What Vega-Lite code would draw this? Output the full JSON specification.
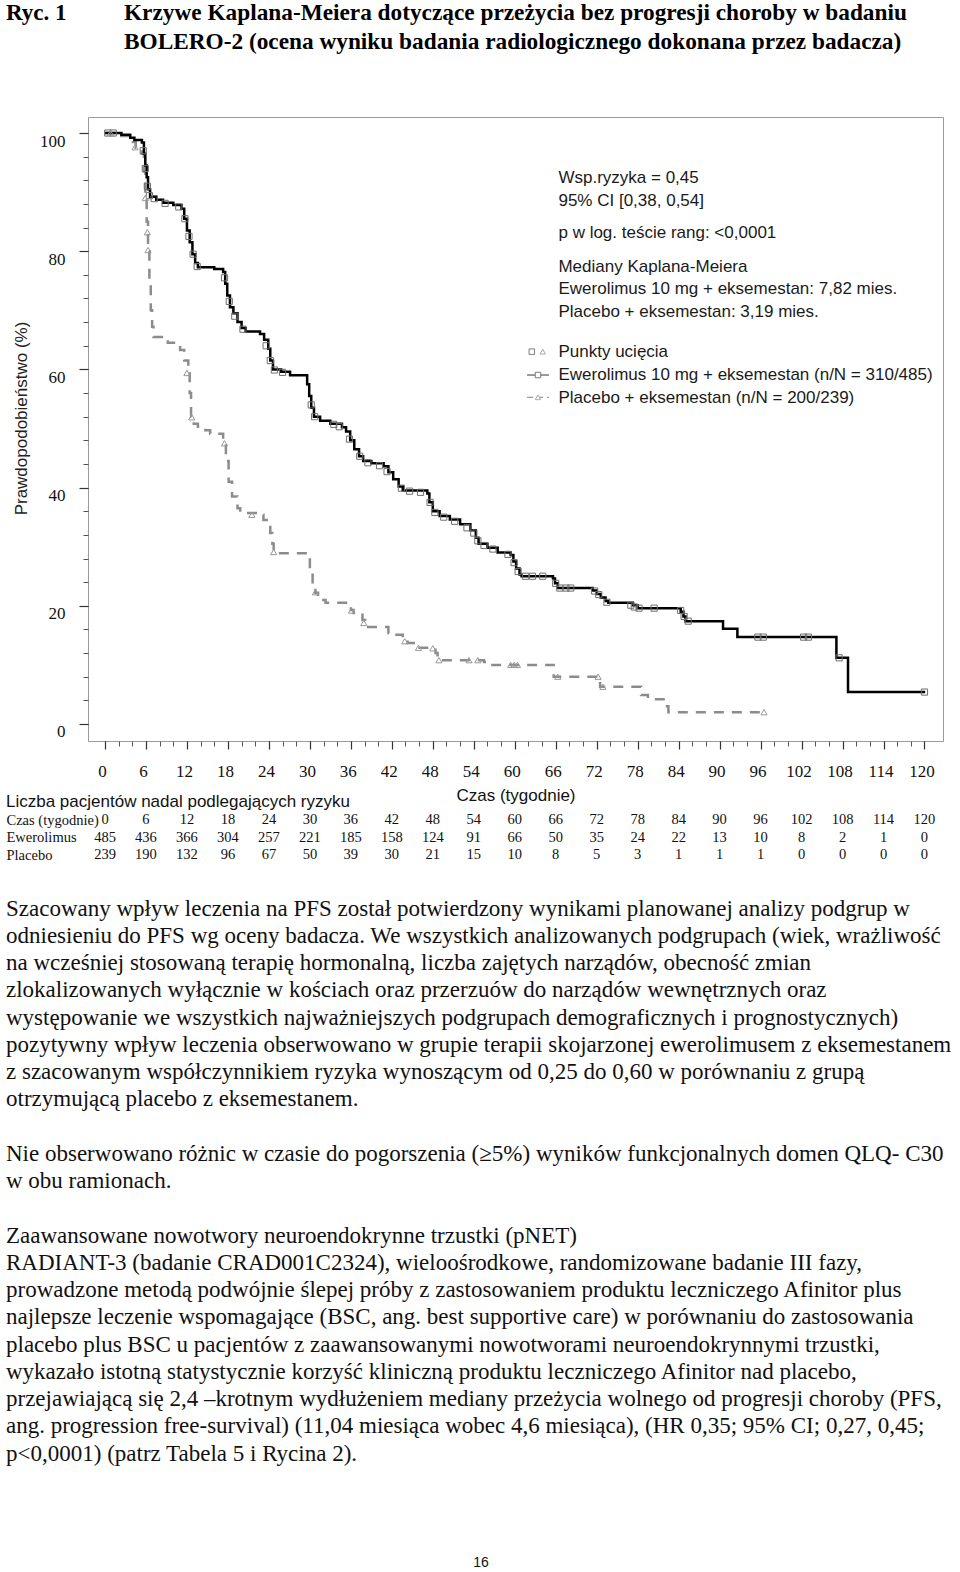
{
  "$schema": "https://vega.github.io/schema/vega-lite/v6.json",
  "background": "white",
  "padding": {"left": 6, "top": 0, "right": 0, "bottom": 0},
  "spacing": 0,
  "bounds": "flush",
  "config": {"view": {"stroke": null}, "font": "Liberation Serif"},
  "datasets": {
    "ewer": [
      {"week":0,"pct":100},{"week":2.4,"pct":99.7},{"week":3.7,"pct":99.2},{"week":4.3,"pct":98.8},{"week":5.4,"pct":98.4},{"week":5.7,"pct":96.5},{"week":5.9,"pct":94.5},{"week":6.1,"pct":92.5},{"week":6.3,"pct":90.5},{"week":6.6,"pct":89.2},{"week":7.5,"pct":88.7},{"week":8.5,"pct":88.2},{"week":10.0,"pct":87.8},{"week":11.2,"pct":87.2},{"week":11.6,"pct":85.5},{"week":12.0,"pct":83.5},{"week":12.4,"pct":81.5},{"week":12.8,"pct":79.5},{"week":13.2,"pct":78.0},{"week":13.6,"pct":77.3},{"week":16.0,"pct":77.0},{"week":17.3,"pct":76.5},{"week":17.6,"pct":74.5},{"week":17.9,"pct":72.5},{"week":18.3,"pct":70.5},{"week":18.8,"pct":69.5},{"week":19.4,"pct":68.0},{"week":20.0,"pct":67.0},{"week":20.6,"pct":66.4},{"week":22.7,"pct":66.0},{"week":23.3,"pct":65.0},{"week":23.9,"pct":63.5},{"week":24.2,"pct":61.5},{"week":24.6,"pct":60.0},{"week":25.8,"pct":59.6},{"week":27.1,"pct":59.0},{"week":29.6,"pct":57.5},{"week":29.9,"pct":55.5},{"week":30.2,"pct":53.5},{"week":30.6,"pct":52.0},{"week":31.5,"pct":51.3},{"week":33.0,"pct":50.8},{"week":34.7,"pct":50.2},{"week":35.3,"pct":49.5},{"week":35.9,"pct":48.0},{"week":36.5,"pct":46.5},{"week":37.2,"pct":45.3},{"week":37.8,"pct":44.5},{"week":39.0,"pct":44.1},{"week":40.8,"pct":43.6},{"week":41.5,"pct":42.6},{"week":42.2,"pct":41.4},{"week":43.0,"pct":40.2},{"week":43.6,"pct":39.5},{"week":47.2,"pct":39.0},{"week":47.5,"pct":37.5},{"week":48.0,"pct":36.0},{"week":49.0,"pct":35.2},{"week":50.5,"pct":34.6},{"week":52.0,"pct":33.8},{"week":53.5,"pct":32.8},{"week":54.3,"pct":31.5},{"week":54.7,"pct":30.5},{"week":56.0,"pct":29.8},{"week":57.5,"pct":29.0},{"week":59.4,"pct":28.6},{"week":59.8,"pct":27.5},{"week":60.2,"pct":26.3},{"week":60.7,"pct":25.3},{"week":61.0,"pct":25.0},{"week":65.6,"pct":24.6},{"week":65.9,"pct":23.8},{"week":66.3,"pct":23.0},{"week":71.4,"pct":22.6},{"week":72.0,"pct":22.0},{"week":72.6,"pct":21.4},{"week":73.3,"pct":20.8},{"week":73.7,"pct":20.5},{"week":77.3,"pct":20.1},{"week":78.0,"pct":19.6},{"week":84.3,"pct":19.0},{"week":84.7,"pct":18.2},{"week":85.0,"pct":17.4},{"week":90.5,"pct":16.1},{"week":92.6,"pct":14.7},{"week":107.1,"pct":11.2},{"week":108.8,"pct":5.4},{"week":120.1,"pct":5.4}
    ],
    "plac": [
      {"week":0,"pct":100},{"week":2.0,"pct":99.5},{"week":3.5,"pct":99.0},{"week":4.1,"pct":98.5},{"week":4.5,"pct":97.5},{"week":5.4,"pct":96.5},{"week":5.7,"pct":93.5},{"week":5.9,"pct":89.0},{"week":6.1,"pct":85.0},{"week":6.3,"pct":80.0},{"week":6.5,"pct":75.0},{"week":6.7,"pct":70.0},{"week":6.9,"pct":67.2},{"week":7.1,"pct":65.5},{"week":9.2,"pct":64.5},{"week":11.0,"pct":63.3},{"week":11.6,"pct":61.5},{"week":12.2,"pct":59.9},{"week":12.4,"pct":56.0},{"week":12.6,"pct":52.0},{"week":13.0,"pct":50.8},{"week":13.6,"pct":50.3},{"week":14.7,"pct":49.7},{"week":15.4,"pct":49.1},{"week":17.3,"pct":47.5},{"week":17.7,"pct":44.5},{"week":18.1,"pct":41.0},{"week":18.6,"pct":38.5},{"week":19.4,"pct":36.5},{"week":19.8,"pct":35.7},{"week":22.3,"pct":35.4},{"week":23.2,"pct":34.5},{"week":23.9,"pct":34.0},{"week":24.2,"pct":32.3},{"week":24.5,"pct":30.5},{"week":24.7,"pct":28.9},{"week":29.6,"pct":28.1},{"week":30.0,"pct":26.0},{"week":30.4,"pct":24.0},{"week":30.8,"pct":22.2},{"week":31.2,"pct":21.0},{"week":32.3,"pct":20.5},{"week":36.0,"pct":19.3},{"week":36.4,"pct":18.8},{"week":37.7,"pct":17.6},{"week":38.1,"pct":16.4},{"week":41.5,"pct":15.4},{"week":42.3,"pct":15.1},{"week":43.6,"pct":14.2},{"week":44.3,"pct":13.7},{"week":45.2,"pct":12.9},{"week":48.4,"pct":12.0},{"week":48.7,"pct":10.8},{"week":55.5,"pct":10.5},{"week":56.0,"pct":10.0},{"week":65.7,"pct":8.0},{"week":72.5,"pct":6.3},{"week":78.5,"pct":4.9},{"week":79.5,"pct":4.2},{"week":82.1,"pct":3.0},{"week":82.5,"pct":2.0},{"week":96.5,"pct":2.0}
    ],
    "censorE": [
      {"week":0.4,"pct":100},{"week":1.2,"pct":100},{"week":5.6,"pct":97},{"week":5.9,"pct":94},{"week":6.2,"pct":91},{"week":6.5,"pct":89.4},{"week":7.2,"pct":88.9},{"week":8.8,"pct":88.1},{"week":10.8,"pct":87.5},{"week":11.7,"pct":85.5},{"week":12.3,"pct":82.5},{"week":12.9,"pct":79.5},{"week":13.5,"pct":77.4},{"week":17.5,"pct":75.5},{"week":18.2,"pct":71.5},{"week":19.0,"pct":69},{"week":20.2,"pct":66.8},{"week":23.6,"pct":64},{"week":24.2,"pct":61.5},{"week":24.8,"pct":59.9},{"week":26.0,"pct":59.5},{"week":30.2,"pct":54},{"week":30.7,"pct":52},{"week":33.5,"pct":50.7},{"week":34.3,"pct":50.3},{"week":35.8,"pct":48.2},{"week":37.3,"pct":45.3},{"week":38.5,"pct":44.2},{"week":40.2,"pct":43.7},{"week":41.3,"pct":42.7},{"week":43.4,"pct":39.9},{"week":44.6,"pct":39.4},{"week":46.2,"pct":39.2},{"week":47.6,"pct":37.5},{"week":48.3,"pct":35.8},{"week":49.6,"pct":35.0},{"week":51.2,"pct":34.3},{"week":53.0,"pct":33.2},{"week":54.0,"pct":32.3},{"week":54.6,"pct":31},{"week":55.5,"pct":30.2},{"week":56.8,"pct":29.6},{"week":59.0,"pct":28.7},{"week":59.9,"pct":27.3},{"week":60.5,"pct":25.8},{"week":61.6,"pct":25},{"week":62.6,"pct":25},{"week":64.1,"pct":25},{"week":66.0,"pct":23.8},{"week":66.6,"pct":23},{"week":67.5,"pct":23},{"week":68.2,"pct":23},{"week":71.7,"pct":22.5},{"week":72.3,"pct":21.9},{"week":73.5,"pct":20.6},{"week":77.0,"pct":20.1},{"week":77.5,"pct":19.8},{"week":78.2,"pct":19.6},{"week":80.4,"pct":19.6},{"week":84.3,"pct":19.2},{"week":84.8,"pct":18.2},{"week":85.4,"pct":17.4},{"week":95.6,"pct":14.7},{"week":96.4,"pct":14.7},{"week":102.3,"pct":14.7},{"week":103.0,"pct":14.7},{"week":107.5,"pct":11.2},{"week":120.0,"pct":5.4}
    ],
    "censorP": [
      {"week":0.8,"pct":100},{"week":4.4,"pct":97.6},{"week":5.9,"pct":89},{"week":6.2,"pct":83.2},{"week":6.3,"pct":80.2},{"week":12.0,"pct":59.4},{"week":12.7,"pct":51.9},{"week":17.5,"pct":47.5},{"week":21.5,"pct":35.4},{"week":24.7,"pct":29.1},{"week":30.8,"pct":22.3},{"week":36.1,"pct":19.2},{"week":37.9,"pct":17.1},{"week":43.9,"pct":14.0},{"week":45.9,"pct":12.9},{"week":48.0,"pct":12.8},{"week":48.9,"pct":10.8},{"week":53.3,"pct":10.8},{"week":54.6,"pct":10.8},{"week":59.4,"pct":10},{"week":59.9,"pct":10},{"week":60.4,"pct":10},{"week":66.3,"pct":8.0},{"week":72.2,"pct":8.0},{"week":72.9,"pct":6.3},{"week":96.5,"pct":2.0}
    ],
    "risk": [
      {"row":"Czas (tygodnie)","week":0,"n":0},{"row":"Czas (tygodnie)","week":6,"n":6},{"row":"Czas (tygodnie)","week":12,"n":12},{"row":"Czas (tygodnie)","week":18,"n":18},{"row":"Czas (tygodnie)","week":24,"n":24},{"row":"Czas (tygodnie)","week":30,"n":30},{"row":"Czas (tygodnie)","week":36,"n":36},{"row":"Czas (tygodnie)","week":42,"n":42},{"row":"Czas (tygodnie)","week":48,"n":48},{"row":"Czas (tygodnie)","week":54,"n":54},{"row":"Czas (tygodnie)","week":60,"n":60},{"row":"Czas (tygodnie)","week":66,"n":66},{"row":"Czas (tygodnie)","week":72,"n":72},{"row":"Czas (tygodnie)","week":78,"n":78},{"row":"Czas (tygodnie)","week":84,"n":84},{"row":"Czas (tygodnie)","week":90,"n":90},{"row":"Czas (tygodnie)","week":96,"n":96},{"row":"Czas (tygodnie)","week":102,"n":102},{"row":"Czas (tygodnie)","week":108,"n":108},{"row":"Czas (tygodnie)","week":114,"n":114},{"row":"Czas (tygodnie)","week":120,"n":120},
      {"row":"Ewerolimus","week":0,"n":485},{"row":"Ewerolimus","week":6,"n":436},{"row":"Ewerolimus","week":12,"n":366},{"row":"Ewerolimus","week":18,"n":304},{"row":"Ewerolimus","week":24,"n":257},{"row":"Ewerolimus","week":30,"n":221},{"row":"Ewerolimus","week":36,"n":185},{"row":"Ewerolimus","week":42,"n":158},{"row":"Ewerolimus","week":48,"n":124},{"row":"Ewerolimus","week":54,"n":91},{"row":"Ewerolimus","week":60,"n":66},{"row":"Ewerolimus","week":66,"n":50},{"row":"Ewerolimus","week":72,"n":35},{"row":"Ewerolimus","week":78,"n":24},{"row":"Ewerolimus","week":84,"n":22},{"row":"Ewerolimus","week":90,"n":13},{"row":"Ewerolimus","week":96,"n":10},{"row":"Ewerolimus","week":102,"n":8},{"row":"Ewerolimus","week":108,"n":2},{"row":"Ewerolimus","week":114,"n":1},{"row":"Ewerolimus","week":120,"n":0},
      {"row":"Placebo","week":0,"n":239},{"row":"Placebo","week":6,"n":190},{"row":"Placebo","week":12,"n":132},{"row":"Placebo","week":18,"n":96},{"row":"Placebo","week":24,"n":67},{"row":"Placebo","week":30,"n":50},{"row":"Placebo","week":36,"n":39},{"row":"Placebo","week":42,"n":30},{"row":"Placebo","week":48,"n":21},{"row":"Placebo","week":54,"n":15},{"row":"Placebo","week":60,"n":10},{"row":"Placebo","week":66,"n":8},{"row":"Placebo","week":72,"n":5},{"row":"Placebo","week":78,"n":3},{"row":"Placebo","week":84,"n":1},{"row":"Placebo","week":90,"n":1},{"row":"Placebo","week":96,"n":1},{"row":"Placebo","week":102,"n":0},{"row":"Placebo","week":108,"n":0},{"row":"Placebo","week":114,"n":0},{"row":"Placebo","week":120,"n":0}
    ],
    "lines": [
      {"line":1,"text":"Szacowany wpływ leczenia na PFS został potwierdzony wynikami planowanej analizy podgrup w"},
      {"line":2,"text":"odniesieniu do PFS wg oceny badacza. We wszystkich analizowanych podgrupach (wiek, wrażliwość"},
      {"line":3,"text":"na wcześniej stosowaną terapię hormonalną, liczba zajętych narządów, obecność zmian"},
      {"line":4,"text":"zlokalizowanych wyłącznie w kościach oraz przerzuów do narządów wewnętrznych oraz"},
      {"line":5,"text":"występowanie we wszystkich najważniejszych podgrupach demograficznych i prognostycznych)"},
      {"line":6,"text":"pozytywny wpływ leczenia obserwowano w grupie terapii skojarzonej ewerolimusem z eksemestanem"},
      {"line":7,"text":"z szacowanym współczynnikiem ryzyka wynoszącym od 0,25 do 0,60 w porównaniu z grupą"},
      {"line":8,"text":"otrzymującą placebo z eksemestanem."},
      {"line":10,"text":"Nie obserwowano różnic w czasie do pogorszenia (≥5%) wyników funkcjonalnych domen QLQ- C30"},
      {"line":11,"text":"w obu ramionach."},
      {"line":13,"text":"Zaawansowane nowotwory neuroendokrynne trzustki (pNET)"},
      {"line":14,"text":"RADIANT-3 (badanie CRAD001C2324), wieloośrodkowe, randomizowane badanie III fazy,"},
      {"line":15,"text":"prowadzone metodą podwójnie ślepej próby z zastosowaniem produktu leczniczego Afinitor plus"},
      {"line":16,"text":"najlepsze leczenie wspomagające (BSC, ang. best supportive care) w porównaniu do zastosowania"},
      {"line":17,"text":"placebo plus BSC u pacjentów z zaawansowanymi nowotworami neuroendokrynnymi trzustki,"},
      {"line":18,"text":"wykazało istotną statystycznie korzyść kliniczną produktu leczniczego Afinitor nad placebo,"},
      {"line":19,"text":"przejawiającą się 2,4 –krotnym wydłużeniem mediany przeżycia wolnego od progresji choroby (PFS,"},
      {"line":20,"text":"ang. progression free-survival) (11,04 miesiąca wobec 4,6 miesiąca), (HR 0,35; 95% CI; 0,27, 0,45;"},
      {"line":21,"text":"p<0,0001) (patrz Tabela 5 i Rycina 2)."}
    ]
  },
  "vconcat": [
    {
      "width": 855,
      "height": 115,
      "data": {"values": [
        {"line": 1, "part": "label", "text": "Ryc. 1"},
        {"line": 1, "part": "title", "text": "Krzywe Kaplana-Meiera dotyczące przeżycia bez progresji choroby w badaniu"},
        {"line": 2, "part": "title", "text": "BOLERO-2 (ocena wyniku badania radiologicznego dokonana przez badacza)"}
      ]},
      "encoding": {
        "x": {"datum": 0, "type": "quantitative", "scale": {"domain": [0, 1], "nice": false, "zero": false}, "axis": null},
        "y": {"field": "line", "type": "quantitative", "scale": {"domain": [0.644, 4.542], "nice": false, "zero": false, "reverse": true}, "axis": null},
        "text": {"field": "text"}
      },
      "layer": [
        {"transform": [{"filter": "datum.part === 'label'"}],
         "mark": {"type": "text", "align": "left", "baseline": "middle", "dx": -82, "font": "Liberation Serif", "fontWeight": "bold", "fontSize": 23, "color": "#000"}},
        {"transform": [{"filter": "datum.part === 'title'"}],
         "mark": {"type": "text", "align": "left", "baseline": "middle", "dx": 36, "font": "Liberation Serif", "fontWeight": "bold", "fontSize": 23.3, "color": "#000"}}
      ]
    },
    {
      "width": 855,
      "height": 624,
      "view": {"stroke": "#9a9a9a", "strokeWidth": 1},
      "resolve": {"axis": {"x": "independent", "y": "independent"}},
      "layer": [
        {
          "data": {"name": "plac"},
          "mark": {"type": "line", "interpolate": "step-after", "color": "#8c8c8c", "strokeWidth": 2.5, "strokeDash": [10, 8]},
          "encoding": {
            "x": {"field": "week", "type": "quantitative",
                  "scale": {"domain": [-2.49, 122.71], "nice": false, "zero": false},
                  "axis": {"orient": "bottom", "values": [0,2,4,6,8,10,12,14,16,18,20,22,24,26,28,30,32,34,36,38,40,42,44,46,48,50,52,54,56,58,60,62,64,66,68,70,72,74,76,78,80,82,84,86,88,90,92,94,96,98,100,102,104,106,108,110,112,114,116,118,120], "labels": false, "domain": false, "grid": false, "tickSize": 5, "tickColor": "#555", "tickWidth": 1, "title": null}},
            "y": {"field": "pct", "type": "quantitative",
                  "scale": {"domain": [-2.88, 102.71], "nice": false, "zero": false},
                  "axis": {"orient": "left", "values": [0,4,8,12,16,20,24,28,32,36,40,44,48,52,56,60,64,68,72,76,80,84,88,92,96,100], "labels": false, "domain": false, "grid": false, "tickSize": 5, "tickColor": "#555", "tickWidth": 1, "title": null}}
          }
        },
        {
          "data": {"name": "ewer"},
          "mark": {"type": "line", "interpolate": "step-after", "color": "#000", "strokeWidth": 2.5},
          "encoding": {
            "x": {"field": "week", "type": "quantitative",
                  "axis": {"orient": "bottom", "values": [0,6,12,18,24,30,36,42,48,54,60,66,72,78,84,90,96,102,108,114,120], "domain": false, "grid": false, "tickSize": 8, "tickColor": "#333", "tickWidth": 1.2, "labelFont": "Liberation Serif", "labelFontSize": 17, "labelColor": "#111", "labelPadding": 14, "labelOffset": -3, "labelFlush": false, "labelOverlap": false, "title": "Czas (tygodnie)", "titleFont": "Liberation Sans", "titleFontSize": 17, "titleFontWeight": "normal", "titleColor": "#111", "titlePadding": 8}},
            "y": {"field": "pct", "type": "quantitative",
                  "axis": {"orient": "left", "values": [0,20,40,60,80,100], "domain": false, "grid": false, "tickSize": 9, "tickColor": "#333", "tickWidth": 1.2, "labelFont": "Liberation Serif", "labelFontSize": 17, "labelColor": "#111", "labelPadding": 14, "labelOffset": 8, "labelFlush": false, "title": "Prawdopodobieństwo (%)", "titleFont": "Liberation Sans", "titleFontSize": 17, "titleFontWeight": "normal", "titleColor": "#222", "titlePadding": 9, "titleY": 301}}
          }
        },
        {
          "data": {"name": "censorE"},
          "mark": {"type": "point", "shape": "square", "filled": false, "size": 38, "stroke": "#6e6e6e", "strokeWidth": 1, "opacity": 1},
          "encoding": {
            "x": {"field": "week", "type": "quantitative", "axis": null},
            "y": {"field": "pct", "type": "quantitative", "axis": null}
          }
        },
        {
          "data": {"name": "censorP"},
          "mark": {"type": "point", "shape": "triangle-up", "filled": false, "size": 38, "stroke": "#999", "strokeWidth": 1, "opacity": 1},
          "encoding": {
            "x": {"field": "week", "type": "quantitative", "axis": null},
            "y": {"field": "pct", "type": "quantitative", "axis": null}
          }
        },
        {
          "data": {"values": [{}]},
          "mark": {"type": "text", "align": "left", "baseline": "middle", "font": "Liberation Sans", "fontSize": 17, "lineHeight": 22.4, "color": "#1a1a1a",
                   "text": ["Wsp.ryzyka = 0,45", "95% CI [0,38, 0,54]"]},
          "encoding": {"x": {"datum": 66.4, "type": "quantitative", "axis": null}, "y": {"datum": 92.34, "type": "quantitative", "axis": null}}
        },
        {
          "data": {"values": [{}]},
          "mark": {"type": "text", "align": "left", "baseline": "middle", "font": "Liberation Sans", "fontSize": 17, "color": "#1a1a1a",
                   "text": "p w log. teście rang: <0,0001"},
          "encoding": {"x": {"datum": 66.4, "type": "quantitative", "axis": null}, "y": {"datum": 83.03, "type": "quantitative", "axis": null}}
        },
        {
          "data": {"values": [{}]},
          "mark": {"type": "text", "align": "left", "baseline": "middle", "font": "Liberation Sans", "fontSize": 17, "lineHeight": 22.5, "color": "#1a1a1a",
                   "text": ["Mediany Kaplana-Meiera", "Ewerolimus 10 mg + eksemestan: 7,82 mies.", "Placebo + eksemestan: 3,19 mies."]},
          "encoding": {"x": {"datum": 66.4, "type": "quantitative", "axis": null}, "y": {"datum": 77.38, "type": "quantitative", "axis": null}}
        },
        {
          "data": {"values": [{}]},
          "mark": {"type": "text", "align": "left", "baseline": "middle", "font": "Liberation Sans", "fontSize": 17, "lineHeight": 22.8, "color": "#1a1a1a",
                   "text": ["Punkty ucięcia", "Ewerolimus 10 mg + eksemestan (n/N = 310/485)", "Placebo + eksemestan (n/N = 200/239)"]},
          "encoding": {"x": {"datum": 66.4, "type": "quantitative", "axis": null}, "y": {"datum": 62.94, "type": "quantitative", "axis": null}}
        },
        {
          "data": {"values": [{}]},
          "mark": {"type": "rule", "color": "#555", "strokeWidth": 1.2},
          "encoding": {"x": {"datum": 61.8, "type": "quantitative", "axis": null}, "x2": {"datum": 65.0}, "y": {"datum": 59.05, "type": "quantitative", "axis": null}}
        },
        {
          "data": {"values": [{}]},
          "mark": {"type": "rule", "color": "#999", "strokeWidth": 1.2, "strokeDash": [6, 4]},
          "encoding": {"x": {"datum": 61.8, "type": "quantitative", "axis": null}, "x2": {"datum": 65.0}, "y": {"datum": 55.28, "type": "quantitative", "axis": null}}
        },
        {
          "data": {"values": [{}]},
          "mark": {"type": "point", "shape": "square", "filled": true, "fill": "white", "size": 30, "stroke": "#7a7a7a", "strokeWidth": 1, "opacity": 1},
          "encoding": {"x": {"datum": 62.5, "type": "quantitative", "axis": null}, "y": {"datum": 63.0, "type": "quantitative", "axis": null}}
        },
        {
          "data": {"values": [{}]},
          "mark": {"type": "point", "shape": "triangle-up", "filled": true, "fill": "white", "size": 30, "stroke": "#aaa", "strokeWidth": 1, "opacity": 1},
          "encoding": {"x": {"datum": 64.1, "type": "quantitative", "axis": null}, "y": {"datum": 63.0, "type": "quantitative", "axis": null}}
        },
        {
          "data": {"values": [{}]},
          "mark": {"type": "point", "shape": "square", "filled": true, "fill": "white", "size": 30, "stroke": "#7a7a7a", "strokeWidth": 1, "opacity": 1},
          "encoding": {"x": {"datum": 63.4, "type": "quantitative", "axis": null}, "y": {"datum": 59.05, "type": "quantitative", "axis": null}}
        },
        {
          "data": {"values": [{}]},
          "mark": {"type": "point", "shape": "triangle-up", "filled": true, "fill": "white", "size": 30, "stroke": "#aaa", "strokeWidth": 1, "opacity": 1},
          "encoding": {"x": {"datum": 63.4, "type": "quantitative", "axis": null}, "y": {"datum": 55.28, "type": "quantitative", "axis": null}}
        }
      ]
    },
    {
      "width": 855,
      "height": 137,
      "title": {"text": "Liczba pacjentów nadal podlegających ryzyku", "anchor": "start", "frame": "bounds", "offset": -70, "font": "Liberation Sans", "fontSize": 17, "fontWeight": "normal", "color": "#111"},
      "data": {"name": "risk"},
      "mark": {"type": "text", "align": "center", "baseline": "middle", "font": "Liberation Serif", "fontSize": 14.5, "color": "#111"},
      "encoding": {
        "x": {"field": "week", "type": "quantitative", "scale": {"domain": [-2.49, 122.71], "nice": false, "zero": false}, "axis": null},
        "y": {"field": "row", "type": "nominal", "sort": ["Czas (tygodnie)", "Ewerolimus", "Placebo"],
              "scale": {"type": "point", "range": [79, 114], "padding": 0},
              "axis": {"title": null, "domain": false, "ticks": false, "tickSize": 0, "labelAlign": "left", "labelPadding": 82, "labelLimit": 0, "labelFont": "Liberation Serif", "labelFontSize": 14.5, "labelColor": "#111"}},
        "text": {"field": "n", "type": "nominal"}
      }
    },
    {
      "width": 855,
      "height": 692,
      "encoding": {
        "x": {"datum": 0, "type": "quantitative", "scale": {"domain": [0, 1], "nice": false, "zero": false}, "axis": null},
        "y": {"field": "line", "type": "quantitative", "scale": {"domain": [-0.128, 25.266], "nice": false, "zero": false, "reverse": true}, "axis": null},
        "text": {"field": "text"}
      },
      "layer": [
        {"data": {"name": "lines"},
         "mark": {"type": "text", "align": "left", "baseline": "middle", "dx": -82, "font": "Liberation Serif", "fontSize": 23, "color": "#111"}},
        {"data": {"values": [{"line": 25, "text": "16"}]},
         "mark": {"type": "text", "align": "center", "baseline": "middle", "dx": 393, "font": "Liberation Sans", "fontSize": 14, "color": "#111"}}
      ]
    }
  ]
}
